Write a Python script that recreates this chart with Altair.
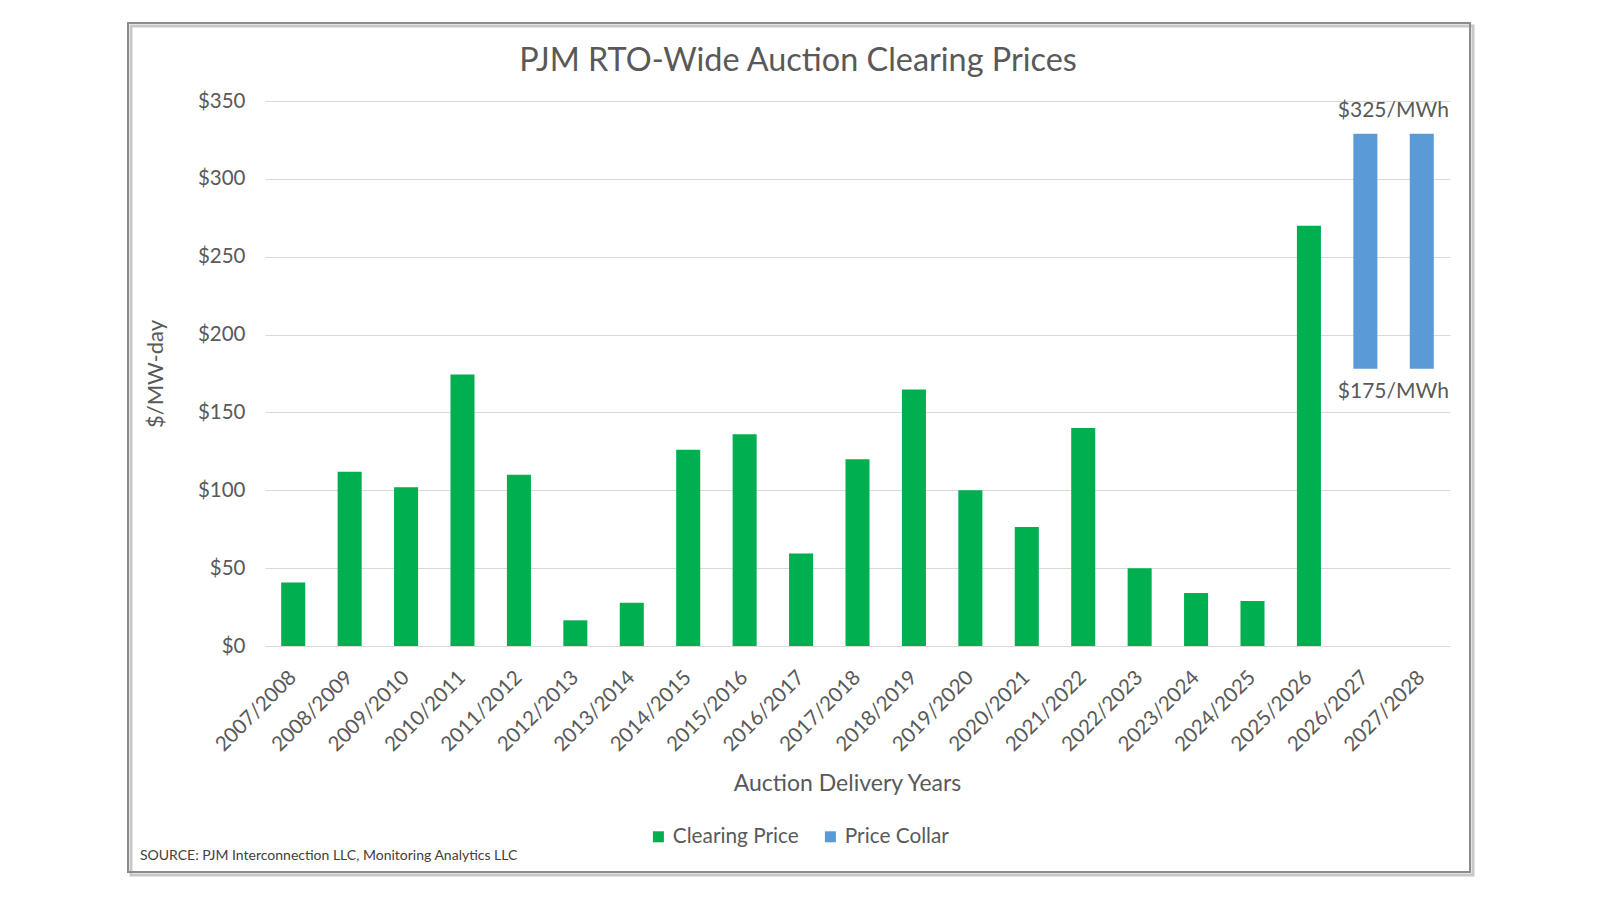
import altair as alt
import pandas as pd

years = ["2007/2008", "2008/2009", "2009/2010", "2010/2011", "2011/2012", "2012/2013",
         "2013/2014", "2014/2015", "2015/2016", "2016/2017", "2017/2018", "2018/2019",
         "2019/2020", "2020/2021", "2021/2022", "2022/2023", "2023/2024", "2024/2025",
         "2025/2026", "2026/2027", "2027/2028"]
clearing = [40.8, 111.9, 102.0, 174.3, 110.0, 16.5, 27.7, 126.0, 136.0, 59.4, 120.0,
            164.8, 100.0, 76.5, 140.0, 50.0, 34.1, 28.9, 269.9]
collar_years = ["2026/2027", "2027/2028"]
collar_low = [178, 178]
collar_high = [329, 329]
series_names = ["Clearing Price", "Price Collar"]
series_colors = ["#00B050", "#5B9BD5"]
y_ticks = [0, 50, 100, 150, 200, 250, 300, 350]
collar_labels = ["$325/MWh", "$175/MWh"]
title_text = "PJM RTO-Wide Auction Clearing Prices"
source_text = "SOURCE: PJM Interconnection LLC, Monitoring Analytics LLC"

rows = []
for y, v in zip(years, clearing):
    rows.append({"year": y, "low": 0, "high": v, "series": "Clearing Price"})
for y, lo, hi in zip(collar_years, collar_low, collar_high):
    rows.append({"year": y, "low": lo, "high": hi, "series": "Price Collar"})
df = pd.DataFrame(rows)

W, H = 1185, 545
FONT = "Lato"
GRAY = "#595959"

xscale = alt.Scale(domain=years, paddingInner=0.574, paddingOuter=0.287)
yscale = alt.Scale(domain=[0, 350], nice=False)

bars = alt.Chart(df).mark_bar().encode(
    x=alt.X("year:N", scale=xscale, sort=years,
            axis=alt.Axis(title="Auction Delivery Years", labelAngle=-45, labelAlign="right",
                          labelBaseline="middle", labelPadding=28, labelFontSize=20.5,
                          labelColor=GRAY, labelFont=FONT, ticks=False, domain=False,
                          titleFont=FONT, titleFontSize=23, titleColor=GRAY,
                          titleFontWeight="normal", titleX=582, titleY=137,
                          titleBaseline="middle", titleAlign="center")),
    y=alt.Y("high:Q", scale=yscale,
            axis=alt.Axis(title="$/MW-day", values=y_ticks, format="$,.0f",
                          labelFontSize=20.5, labelColor=GRAY, labelFont=FONT,
                          labelPadding=20, ticks=False, domain=False,
                          gridColor="#D9D9D9", gridWidth=1.2,
                          titleFont=FONT, titleFontSize=22, titleColor=GRAY,
                          titleFontWeight="normal", titleX=-110, titleY=H / 2,
                          titleAngle=-90, titleBaseline="middle", titleAlign="center")),
    y2="low:Q",
    color=alt.Color("series:N", scale=alt.Scale(domain=series_names, range=series_colors),
                    legend=alt.Legend(title=None, orient="none", direction="horizontal",
                                      legendX=383, legendY=725, symbolType="square",
                                      symbolSize=121, symbolStrokeWidth=0, labelFontSize=20.8,
                                      labelFont=FONT, labelColor=GRAY, labelOffset=4,
                                      columnPadding=21, padding=0)),
)

ann_df = pd.DataFrame({
    "year": ["2026/2027", "2026/2027"],
    "val": [collar_high[0], collar_low[0]],
    "label": collar_labels,
})
ann_top = alt.Chart(ann_df.iloc[[0]]).mark_text(
    font=FONT, fontSize=21, color=GRAY, dy=-23, dx=28, baseline="middle", align="center"
).encode(x=alt.X("year:N", scale=xscale, sort=years),
         y=alt.Y("val:Q", scale=yscale), text="label:N")
ann_bot = alt.Chart(ann_df.iloc[[1]]).mark_text(
    font=FONT, fontSize=21, color=GRAY, dy=23, dx=28, baseline="middle", align="center"
).encode(x=alt.X("year:N", scale=xscale, sort=years),
         y=alt.Y("val:Q", scale=yscale), text="label:N")

title_df = pd.DataFrame({"t": [title_text]})
title = alt.Chart(title_df).mark_text(
    font=FONT, fontSize=32.4, color=GRAY, align="center", baseline="middle"
).encode(x=alt.value(533), y=alt.value(-40), text="t:N")

src_df = pd.DataFrame({"t": [source_text]})
source = alt.Chart(src_df).mark_text(
    font=FONT, fontSize=14, color="#404040", align="left", baseline="middle"
).encode(x=alt.value(-125), y=alt.value(755), text="t:N")

frame_df = pd.DataFrame({"k": [1]})
shadow = alt.Chart(frame_df).mark_rect(fill=None, stroke="#C8C8C8", strokeWidth=3).encode(
    x=alt.value(-134), x2=alt.value(1208), y=alt.value(-75), y2=alt.value(774))
frame = alt.Chart(frame_df).mark_rect(fill=None, stroke="#8C8C8C", strokeWidth=2).encode(
    x=alt.value(-137), x2=alt.value(1205), y=alt.value(-78), y2=alt.value(771))

chart = alt.layer(shadow, frame, bars, ann_top, ann_bot, title, source).properties(
    width=W, height=H,
    autosize=alt.AutoSizeParams(type="none"),
    padding={"left": 265, "top": 101, "right": 150, "bottom": 254},
    background="white",
).configure_view(stroke=None)

chart.save("out.html", embed_options={"renderer": "svg", "actions": False})
